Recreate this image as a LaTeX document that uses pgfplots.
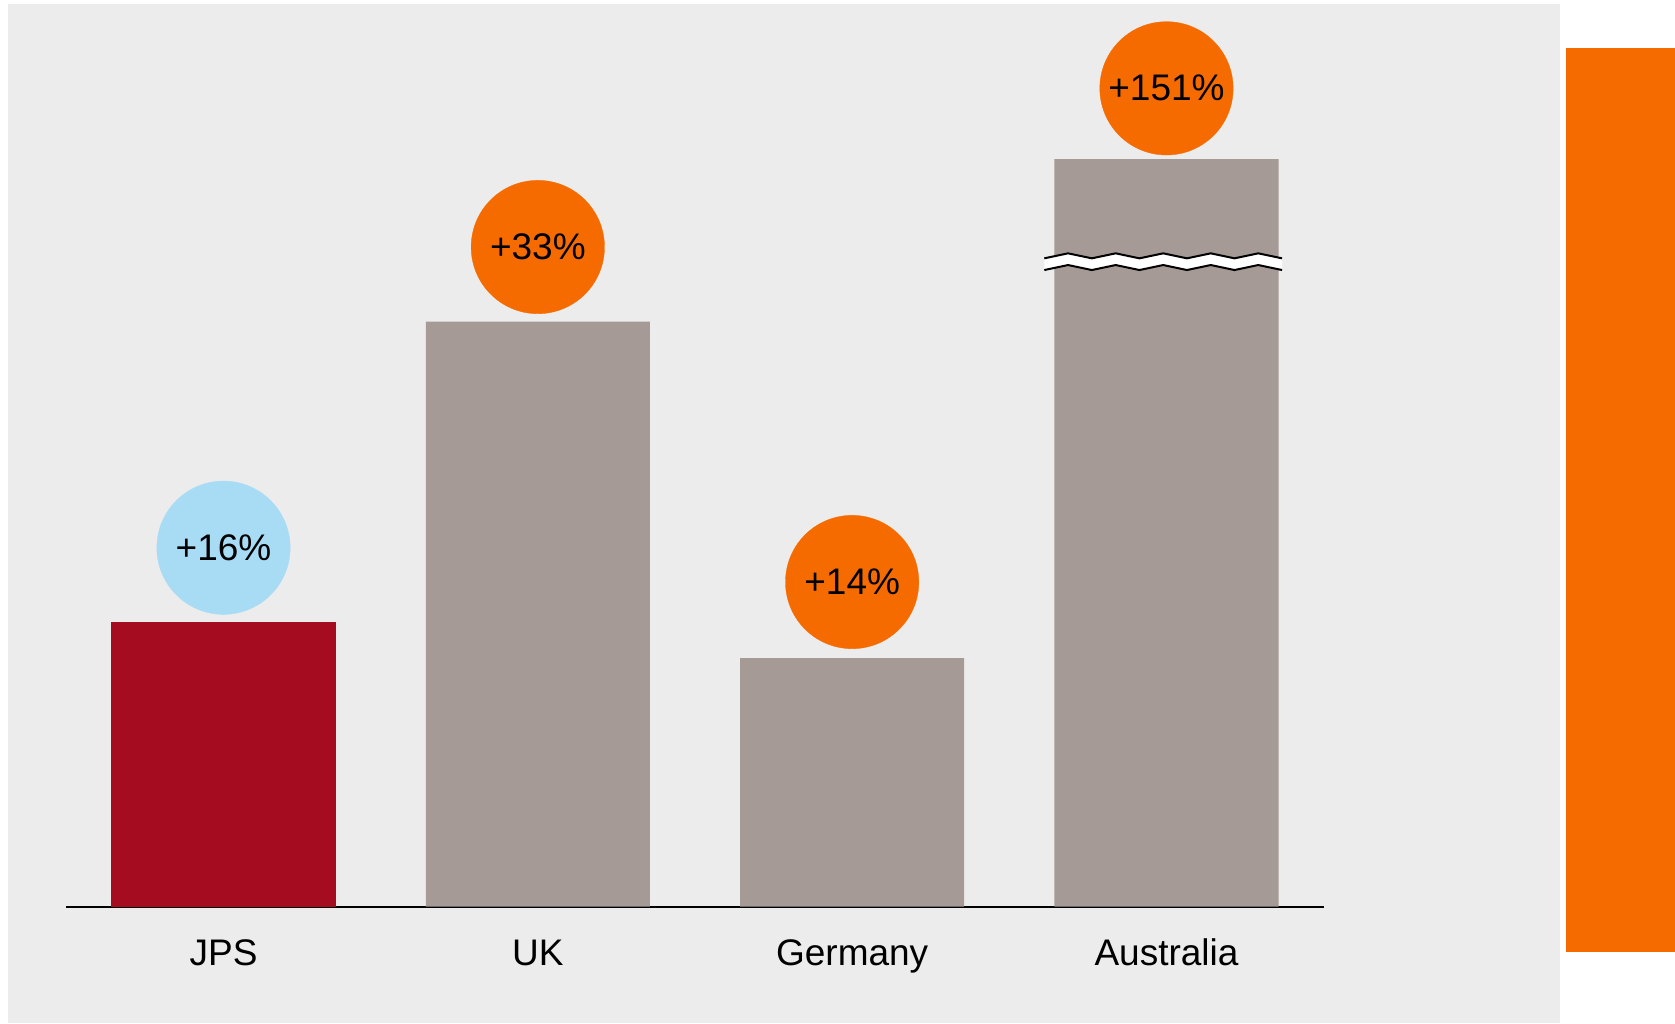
\documentclass[border=0pt]{standalone}
\usepackage{pgfplots}
\pgfplotsset{compat=1.18}
\usepackage{fontspec}
\setmainfont{Liberation Sans}
\definecolor{bgray}{HTML}{ECECEC}
\definecolor{jpsred}{HTML}{A50C1F}
\definecolor{bargray}{HTML}{A59A95}
\definecolor{lblue}{HTML}{A8DCF5}
\definecolor{porange}{HTML}{F56B00}
\begin{document}
\begin{tikzpicture}[x=0.3pt,y=0.3pt]
\path[use as bounding box] (0,0) rectangle (1675,1023);
\fill[bgray] (8,0) rectangle (1560,1019);
\fill[porange] (1566,71) rectangle (1675,975);
\coordinate (O) at (223.5,116.3);
\begin{axis}[
  at={(O)}, anchor=origin,
  scale only axis,
  width=377.2pt, height=270pt,
  xmin=-0.5, xmax=3.5, ymin=0, ymax=90,
  clip=false,
  axis x line*=bottom,
  axis y line=none,
  x axis line style={-, black, line width=0.6pt},
  xtick={0,1,2,3},
  xticklabels={JPS,UK,Germany,Australia},
  major tick length=0pt,
  xticklabel style={anchor=base, yshift=-17.5pt, font=\fontsize{11.1}{13}\selectfont, text=black},
]
\addplot[ybar, bar width=0.713, bar shift=0pt, fill=jpsred, draw=none] coordinates {(0,28.50)};
\addplot[ybar, bar width=0.713, bar shift=0pt, fill=bargray, draw=none] coordinates {(1,58.52) (2,24.87) (3,74.77)};
% break mark
\fill[white] (axis cs:2.6113,64.84) -- (axis cs:2.6869,65.34) -- (axis cs:2.7626,64.84) -- (axis cs:2.8382,65.34) -- (axis cs:2.9139,64.84) -- (axis cs:2.9895,65.34) -- (axis cs:3.0651,64.84) -- (axis cs:3.1408,65.34) -- (axis cs:3.2164,64.84) -- (axis cs:3.2920,65.34) -- (axis cs:3.3677,64.84)
 -- (axis cs:3.3677,63.67) -- (axis cs:3.2920,64.17) -- (axis cs:3.2164,63.67) -- (axis cs:3.1408,64.17) -- (axis cs:3.0651,63.67) -- (axis cs:2.9895,64.17) -- (axis cs:2.9139,63.67) -- (axis cs:2.8382,64.17) -- (axis cs:2.7626,63.67) -- (axis cs:2.6869,64.17) -- (axis cs:2.6113,63.67) -- cycle;
\draw[black, line width=0.6pt] (axis cs:2.6113,64.84) -- (axis cs:2.6869,65.34) -- (axis cs:2.7626,64.84) -- (axis cs:2.8382,65.34) -- (axis cs:2.9139,64.84) -- (axis cs:2.9895,65.34) -- (axis cs:3.0651,64.84) -- (axis cs:3.1408,65.34) -- (axis cs:3.2164,64.84) -- (axis cs:3.2920,65.34) -- (axis cs:3.3677,64.84);
\draw[black, line width=0.6pt] (axis cs:2.6113,63.67) -- (axis cs:2.6869,64.17) -- (axis cs:2.7626,63.67) -- (axis cs:2.8382,64.17) -- (axis cs:2.9139,63.67) -- (axis cs:2.9895,64.17) -- (axis cs:3.0651,63.67) -- (axis cs:3.1408,64.17) -- (axis cs:3.2164,63.67) -- (axis cs:3.2920,64.17) -- (axis cs:3.3677,63.67);
% circles
\addplot[only marks, mark=*, mark size=20pt, mark options={draw=lblue, fill=lblue, line width=0.1pt},
  point meta=explicit symbolic, nodes near coords,
  every node near coord/.append style={anchor=center, font=\fontsize{11.1}{13}\selectfont, text=black}]
  coordinates {(0,35.90) [{+16\%}]};
\addplot[only marks, mark=*, mark size=20pt, mark options={draw=porange, fill=porange, line width=0.1pt},
  point meta=explicit symbolic, nodes near coords,
  every node near coord/.append style={anchor=center, font=\fontsize{11.1}{13}\selectfont, text=black}]
  coordinates {(1,65.97) [{+33\%}] (2,32.47) [{+14\%}] (3,81.84) [{+151\%}]};
\end{axis}
\end{tikzpicture}
\end{document}
